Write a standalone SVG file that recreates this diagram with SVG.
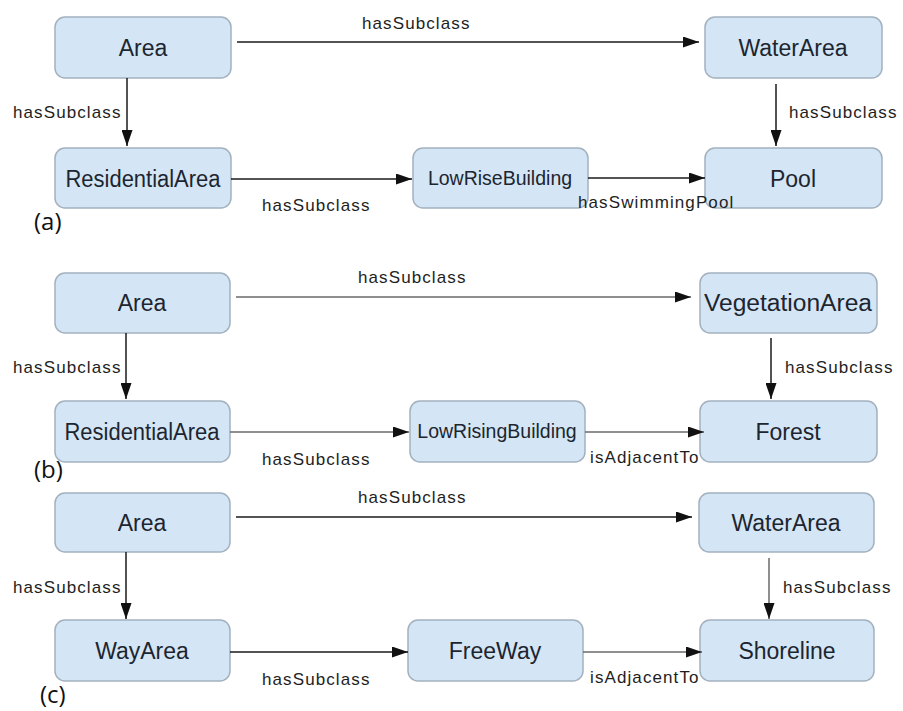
<svg xmlns="http://www.w3.org/2000/svg" width="903" height="711" viewBox="0 0 903 711">
  <defs>
    <marker id="arrow" markerUnits="userSpaceOnUse" markerWidth="17" markerHeight="11" refX="16" refY="5.5" orient="auto">
      <path d="M0,0 L16,5.5 L0,11 z" fill="#111"/>
    </marker>
    <style>
      .box { fill: #d4e6f5; stroke: #a3b1bf; stroke-width: 1.5; }
      .name { font-family: "Liberation Sans", Arial, sans-serif; font-size: 23px; fill: #1c2530; text-anchor: middle; }
      .small { font-size: 19.5px; }
      .edge { stroke: #1a1a1a; stroke-width: 1.5; fill: none; marker-end: url(#arrow); }
      .edge.gray { stroke: #6a6a6a; }
      .lbl { font-family: "Liberation Sans", Arial, sans-serif; font-size: 17px; fill: #1e1e1e; letter-spacing: 1.1px; }
      .panel { font-family: "Open Sans", "Liberation Sans", sans-serif; font-size: 24px; fill: #111; }
    </style>
  </defs>
  <rect width="903" height="711" fill="#ffffff"/>

  <!-- (a) nodes -->
  <g id="a-area"><rect class="box" x="55" y="17" width="176" height="61" rx="10"/><text class="name" x="143" y="56">Area</text></g>
  <g id="a-waterarea"><rect class="box" x="705" y="17" width="177" height="61" rx="10"/><text class="name" x="793" y="56">WaterArea</text></g>
  <g id="a-residentialarea"><rect class="box" x="55" y="148" width="176" height="60" rx="10"/><text class="name" x="143" y="187" textLength="155" lengthAdjust="spacingAndGlyphs">ResidentialArea</text></g>
  <g id="a-lowrisebuilding"><rect class="box" x="413" y="148" width="175" height="60" rx="10"/><text class="name small" x="500" y="185">LowRiseBuilding</text></g>
  <g id="a-pool"><rect class="box" x="705" y="148" width="177" height="60" rx="10"/><text class="name" x="793" y="187">Pool</text></g>
  <text class="panel" x="34" y="230">(a)</text>

  <!-- (b) nodes -->
  <g id="b-area"><rect class="box" x="55" y="273" width="175" height="60" rx="10"/><text class="name" x="142" y="311">Area</text></g>
  <g id="b-vegetationarea"><rect class="box" x="700" y="273" width="177" height="60" rx="10"/><text class="name" x="788" y="311" textLength="168" lengthAdjust="spacingAndGlyphs">VegetationArea</text></g>
  <g id="b-residentialarea"><rect class="box" x="55" y="401" width="175" height="61" rx="10"/><text class="name" x="142" y="440" textLength="155" lengthAdjust="spacingAndGlyphs">ResidentialArea</text></g>
  <g id="b-lowrisingbuilding"><rect class="box" x="410" y="401" width="175" height="61" rx="10"/><text class="name small" x="497" y="438">LowRisingBuilding</text></g>
  <g id="b-forest"><rect class="box" x="700" y="401" width="177" height="61" rx="10"/><text class="name" x="788" y="440">Forest</text></g>
  <text class="panel" x="34" y="478">(b)</text>

  <!-- (c) nodes -->
  <g id="c-area"><rect class="box" x="55" y="493" width="175" height="59" rx="10"/><text class="name" x="142" y="531">Area</text></g>
  <g id="c-waterarea"><rect class="box" x="699" y="493" width="175" height="59" rx="10"/><text class="name" x="786" y="531">WaterArea</text></g>
  <g id="c-wayarea"><rect class="box" x="55" y="620" width="175" height="61" rx="10"/><text class="name" x="142" y="659">WayArea</text></g>
  <g id="c-freeway"><rect class="box" x="408" y="620" width="175" height="61" rx="10"/><text class="name" x="495" y="659">FreeWay</text></g>
  <g id="c-shoreline"><rect class="box" x="700" y="620" width="174" height="61" rx="10"/><text class="name" x="787" y="659">Shoreline</text></g>
  <text class="panel" x="40" y="703">(c)</text>

  <!-- connectors, drawn over the nodes so overlapping labels stay visible -->
  <g id="connectors">
    <!-- (a) -->
    <line class="edge" x1="237" y1="42" x2="699" y2="42"/>
    <line class="edge" x1="127" y1="78" x2="127" y2="146"/>
    <line class="edge" x1="776" y1="84" x2="776" y2="146"/>
    <line class="edge" x1="231" y1="179" x2="412" y2="179"/>
    <line class="edge" x1="588" y1="178" x2="705" y2="178"/>
    <!-- (b) -->
    <line class="edge gray" x1="236" y1="297" x2="691" y2="297"/>
    <line class="edge" x1="126" y1="333" x2="126" y2="399"/>
    <line class="edge" x1="771" y1="338" x2="771" y2="399"/>
    <line class="edge gray" x1="230" y1="432" x2="409" y2="432"/>
    <line class="edge gray" x1="585" y1="432" x2="704" y2="432"/>
    <!-- (c) -->
    <line class="edge" x1="236" y1="517" x2="692" y2="517"/>
    <line class="edge" x1="126" y1="552" x2="126" y2="619"/>
    <line class="edge gray" x1="769" y1="558" x2="769" y2="619"/>
    <line class="edge" x1="230" y1="652" x2="408" y2="652"/>
    <line class="edge gray" x1="583" y1="652" x2="702" y2="652"/>

    <!-- connector labels -->
    <text class="lbl" x="362" y="29">hasSubclass</text>
    <text class="lbl" x="13" y="118">hasSubclass</text>
    <text class="lbl" x="789" y="118">hasSubclass</text>
    <text class="lbl" x="262" y="211">hasSubclass</text>
    <text class="lbl" x="578" y="208">hasSwimmingPool</text>

    <text class="lbl" x="358" y="283">hasSubclass</text>
    <text class="lbl" x="13" y="373">hasSubclass</text>
    <text class="lbl" x="785" y="373">hasSubclass</text>
    <text class="lbl" x="262" y="465">hasSubclass</text>
    <text class="lbl" x="590" y="463">isAdjacentTo</text>

    <text class="lbl" x="358" y="503">hasSubclass</text>
    <text class="lbl" x="13" y="593">hasSubclass</text>
    <text class="lbl" x="783" y="593">hasSubclass</text>
    <text class="lbl" x="262" y="685">hasSubclass</text>
    <text class="lbl" x="590" y="683">isAdjacentTo</text>
  </g>
</svg>
